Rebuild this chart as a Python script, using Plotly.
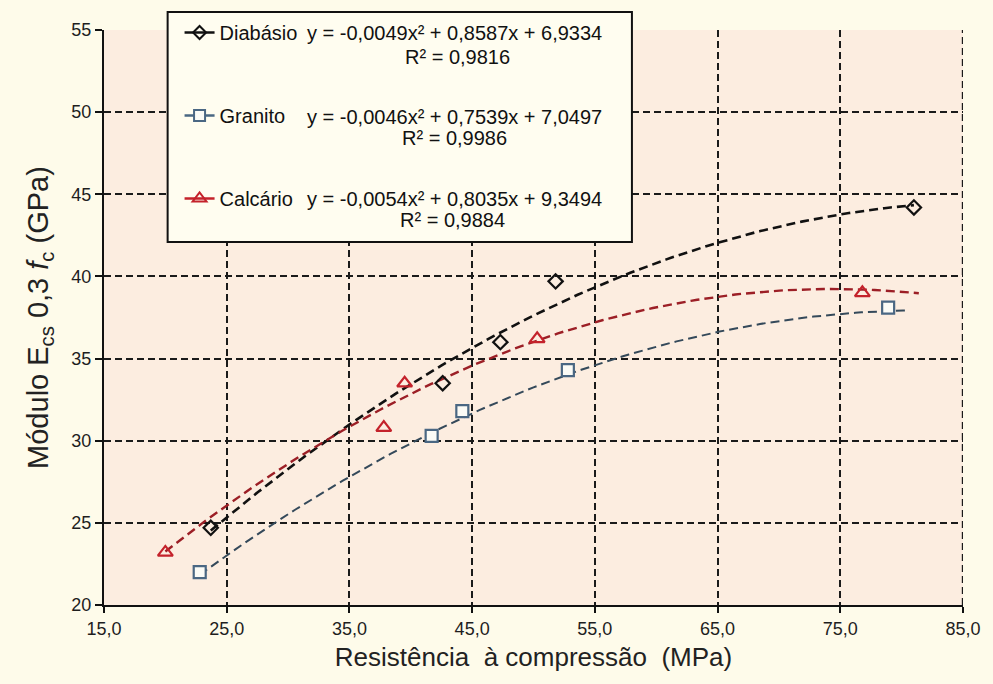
import numpy as np
import plotly.graph_objects as go

# Measured points: compressive strength (MPa) vs. modulus Ecs at 0.3 fc (GPa)
diabasio_x = [23.7, 42.6, 47.3, 51.8, 81.0]
diabasio_y = [24.7, 33.5, 36.0, 39.7, 44.2]

granito_x = [22.8, 41.7, 44.2, 52.8, 78.9]
granito_y = [22.0, 30.3, 31.8, 34.3, 38.1]

calcario_x = [20.0, 37.8, 39.5, 50.3, 76.8]
calcario_y = [23.2, 30.8, 33.5, 36.2, 39.0]

# Polynomial trendlines (a, b, c) of y = a x^2 + b x + c, and their spans
diabasio_fit = [-0.0049, 0.8587, 6.9334]
granito_fit = [-0.0046, 0.7539, 7.0497]
calcario_fit = [-0.0054, 0.8035, 9.3494]
diabasio_span = [23.7, 81.0]
granito_span = [22.8, 80.6]
calcario_span = [20.0, 81.4]

names = ["Diabásio", "Granito", "Calcário"]
equations = [
    "y = -0,0049x² + 0,8587x + 6,9334",
    "y = -0,0046x² + 0,7539x + 7,0497",
    "y = -0,0054x² + 0,8035x + 9,3494",
]
r2_labels = ["R² = 0,9816", "R² = 0,9986", "R² = 0,9884"]

x_ticks = [15, 25, 35, 45, 55, 65, 75, 85]
x_ticktext = ["15,0", "25,0", "35,0", "45,0", "55,0", "65,0", "75,0", "85,0"]
y_ticks = [20, 25, 30, 35, 40, 45, 50, 55]

W, H = 993, 684
ML, MR, MT, MB = 104, 25, 30, 79
PW, PH = W - ML - MR, H - MT - MB


def px(xp):
    return (xp - ML) / PW


def py(yp):
    return (H - MB - yp) / PH


FONT = "Liberation Sans, Arial, sans-serif"
CLEAR = "rgba(0,0,0,0)"

styles = [
    dict(symbol="diamond", size=11, mcolor="#111111", mfill=CLEAR,
         lcolor="#111111", lwidth=2.6, legline="#111111"),
    dict(symbol="square", size=12, mcolor="#4a6783", mfill="#fbfbf6",
         lcolor="#34495a", lwidth=2.0, legline="#4a6783"),
    dict(symbol="triangle-up", size=13, mcolor="#c4222b", mfill=CLEAR,
         lcolor="#9c1f26", lwidth=2.4, legline="#c4222b"),
]

series = [
    (diabasio_x, diabasio_y, diabasio_fit, diabasio_span),
    (granito_x, granito_y, granito_fit, granito_span),
    (calcario_x, calcario_y, calcario_fit, calcario_span),
]

fig = go.Figure()

# dashed polynomial trendlines
for (sx, sy, fit, span), name, st in zip(series, names, styles):
    xs = np.linspace(span[0], span[1], 120)
    ys = np.polyval(fit, xs)
    fig.add_trace(go.Scatter(
        x=xs, y=ys, mode="lines", showlegend=False, hoverinfo="skip",
        line=dict(color=st["lcolor"], width=st["lwidth"], dash="9px,5px"),
    ))

# measured points
for (sx, sy, fit, span), name, st in zip(series, names, styles):
    fig.add_trace(go.Scatter(
        x=sx, y=sy, mode="markers", name=name, showlegend=False,
        marker=dict(symbol=st["symbol"], size=st["size"], color=st["mfill"],
                    line=dict(color=st["mcolor"], width=2.2)),
    ))

# legend entries (line through marker)
for name, st in zip(names, styles):
    fig.add_trace(go.Scatter(
        x=[None], y=[None], mode="lines+markers", name=name, legendgroup=name,
        line=dict(color=st["legline"], width=2.5),
        marker=dict(symbol=st["symbol"], size=st["size"] - 1, color=st["mfill"],
                    line=dict(color=st["mcolor"], width=2)),
    ))

# legend frame
fig.add_shape(type="rect", xref="paper", yref="paper",
              x0=px(168), x1=px(635), y0=py(242), y1=py(12),
              line=dict(color="#111111", width=2), fillcolor="#fffdf0", layer="above")

# dashed gridline on the right edge (x = 85)
fig.add_shape(type="line", xref="x", yref="paper", x0=85, x1=85, y0=0, y1=1,
              line=dict(color="#1a1a1a", width=2.4, dash="7px,4px"), layer="below")

eq_y = [33, 117, 199]
r2_y = [57, 138, 220]
r2_x = [460, 457, 455]
for eq, r2, ey, ry, rx in zip(equations, r2_labels, eq_y, r2_y, r2_x):
    fig.add_annotation(text=eq, xref="paper", yref="paper", x=px(607), y=py(ey),
                       xanchor="right", yanchor="middle", showarrow=False,
                       font=dict(family=FONT, size=20, color="#111111"))
    fig.add_annotation(text=r2, xref="paper", yref="paper", x=px(rx), y=py(ry),
                       xanchor="center", yanchor="middle", showarrow=False,
                       font=dict(family=FONT, size=20, color="#111111"))

grid = dict(showgrid=True, gridcolor="#1a1a1a", gridwidth=2.4, griddash="7px,4px")

fig.update_xaxes(
    range=[15, 85], tickmode="array", tickvals=x_ticks, ticktext=x_ticktext,
    showline=True, linecolor="#111111", linewidth=2.2,
    ticks="outside", ticklen=6, tickwidth=2, tickcolor="#111111",
    tickfont=dict(family=FONT, size=18, color="#1e1e1e"),
    title=dict(text="Resistência\u00a0\u00a0à compressão\u00a0\u00a0(MPa)",
               font=dict(family=FONT, size=26, color="#222222"), standoff=10),
    zeroline=False, **grid,
)
fig.update_yaxes(
    range=[20, 55], tickmode="array", tickvals=y_ticks,
    showline=True, linecolor="#111111", linewidth=2.2,
    ticks="outside", ticklen=7, tickwidth=2, tickcolor="#111111",
    tickfont=dict(family=FONT, size=18, color="#1e1e1e"),
    title=dict(text="Módulo E<sub>cs</sub> 0,3 <i>f</i><sub>c</sub> (GPa)",
               font=dict(family=FONT, size=29, color="#222222"), standoff=14),
    zeroline=False, **grid,
)

fig.update_layout(
    width=W, height=H,
    margin=dict(l=ML, r=MR, t=MT, b=MB),
    paper_bgcolor="#fefbea",
    plot_bgcolor="#fcede0",
    font=dict(family=FONT, color="#222222"),
    legend=dict(x=px(180), y=py(13), xanchor="left", yanchor="top",
                bgcolor=CLEAR, borderwidth=0,
                font=dict(family=FONT, size=20, color="#111111"),
                traceorder="grouped", tracegroupgap=54),
)

fig.write_html("out.html")
